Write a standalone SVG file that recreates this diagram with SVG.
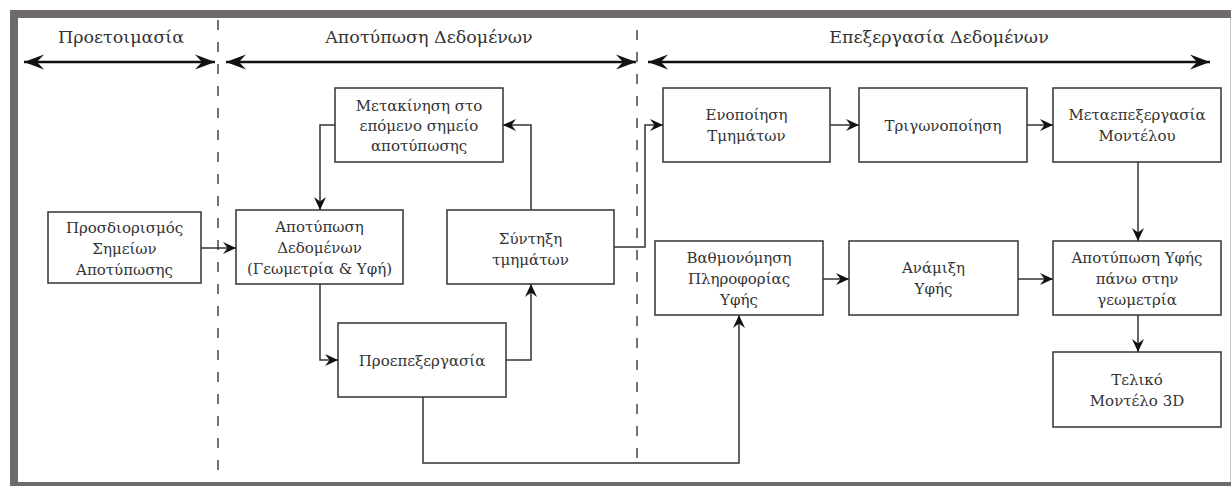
<svg xmlns="http://www.w3.org/2000/svg" width="1231" height="486" viewBox="0 0 1231 486">
<defs>
<marker id="ah" markerUnits="userSpaceOnUse" markerWidth="16" markerHeight="16" viewBox="-14 -8 16 16" refX="0" refY="0" orient="auto">
<path d="M0,0 L-13,-6 L-8.5,0 L-13,6 Z" fill="#111"/>
</marker>
<marker id="big" markerUnits="userSpaceOnUse" markerWidth="22" markerHeight="18" viewBox="-21 -9 22 18" refX="0" refY="0" orient="auto-start-reverse">
<path d="M0,0 L-20,-7.5 L-13,0 L-20,7.5 Z" fill="#111"/>
</marker>
</defs>
<style>
.box{fill:#fff;stroke:#333;stroke-width:1.5}
.t{font-family:"DejaVu Serif",serif;font-size:15px;fill:#333;text-anchor:middle}
.h{font-family:"DejaVu Serif",serif;font-size:17.5px;fill:#333;text-anchor:middle}
.c{fill:none;stroke:#333;stroke-width:1.5}
.ha{fill:none;stroke:#111;stroke-width:2.5}
.dash{fill:none;stroke:#444;stroke-width:1.5;stroke-dasharray:10 12}
</style>
<rect x="0" y="0" width="1231" height="486" fill="#fff"/>
<rect x="10" y="10" width="1221" height="476" fill="#6f6b6b"/>
<rect x="18" y="18" width="1212" height="464" fill="#fff"/>
<line x1="1230.5" y1="18" x2="1230.5" y2="482" stroke="#c8c8c8" stroke-width="1"/>

<g id="phases">
<line class="dash" x1="218" y1="20" x2="218" y2="470"/>
<line class="dash" x1="637" y1="30" x2="637" y2="470"/>
<text class="h" x="121" y="43">Προετοιμασία</text>
<text class="h" x="429" y="43">Αποτύπωση Δεδομένων</text>
<text class="h" x="939" y="43">Επεξεργασία Δεδομένων</text>
<line class="ha" x1="24" y1="62" x2="215" y2="62" marker-start="url(#big)" marker-end="url(#big)"/>
<line class="ha" x1="226" y1="62" x2="636" y2="62" marker-start="url(#big)" marker-end="url(#big)"/>
<line class="ha" x1="648" y1="62" x2="1210" y2="62" marker-start="url(#big)" marker-end="url(#big)"/>
</g>

<g id="connectors">
<path class="c" d="M201,248 H236" marker-end="url(#ah)"/>
<path class="c" d="M335,125 H320 V210" marker-end="url(#ah)"/>
<path class="c" d="M320,284 V360 H338" marker-end="url(#ah)"/>
<path class="c" d="M506,360 H531 V284" marker-end="url(#ah)"/>
<path class="c" d="M531,210 V125 H503" marker-end="url(#ah)"/>
<path class="c" d="M614,247 H645 V125 H663" marker-end="url(#ah)"/>
<path class="c" d="M423,397 V463 H739 V315" marker-end="url(#ah)"/>
<path class="c" d="M830,125 H859" marker-end="url(#ah)"/>
<path class="c" d="M1027,125 H1053" marker-end="url(#ah)"/>
<path class="c" d="M1138,162 V241" marker-end="url(#ah)"/>
<path class="c" d="M823,279 H849" marker-end="url(#ah)"/>
<path class="c" d="M1018,279 H1053" marker-end="url(#ah)"/>
<path class="c" d="M1138,315 V352" marker-end="url(#ah)"/>
</g>

<g id="n1"><rect class="box" x="48" y="212" width="153" height="71"/>
<text class="t" x="124.5" y="233">Προσδιορισμός</text><text class="t" x="124.5" y="254">Σημείων</text><text class="t" x="124.5" y="275">Αποτύπωσης</text></g>

<g id="n2"><rect class="box" x="236" y="210" width="167" height="74"/>
<text class="t" x="319.5" y="232">Αποτύπωση</text><text class="t" x="319.5" y="253">Δεδομένων</text><text class="t" x="319.5" y="274">(Γεωμετρία &amp; Υφή)</text></g>

<g id="n3"><rect class="box" x="335" y="88" width="168" height="74"/>
<text class="t" x="419" y="111">Μετακίνηση στο</text><text class="t" x="419" y="131">επόμενο σημείο</text><text class="t" x="419" y="151">αποτύπωσης</text></g>

<g id="n4"><rect class="box" x="447" y="210" width="167" height="74"/>
<text class="t" x="530.5" y="244">Σύντηξη</text><text class="t" x="530.5" y="265">τμημάτων</text></g>

<g id="n5"><rect class="box" x="338" y="323" width="168" height="74"/>
<text class="t" x="422" y="366">Προεπεξεργασία</text></g>

<g id="n6"><rect class="box" x="663" y="88" width="167" height="74"/>
<text class="t" x="746.5" y="120">Ενοποίηση</text><text class="t" x="746.5" y="141">Τμημάτων</text></g>

<g id="n7"><rect class="box" x="859" y="88" width="168" height="74"/>
<text class="t" x="943" y="131">Τριγωνοποίηση</text></g>

<g id="n8"><rect class="box" x="1053" y="88" width="168" height="74"/>
<text class="t" x="1137" y="120">Μεταεπεξεργασία</text><text class="t" x="1137" y="141">Μοντέλου</text></g>

<g id="n9"><rect class="box" x="655" y="241" width="168" height="74"/>
<text class="t" x="739" y="263">Βαθμονόμηση</text><text class="t" x="739" y="284">Πληροφορίας</text><text class="t" x="739" y="305">Υφής</text></g>

<g id="n10"><rect class="box" x="849" y="241" width="169" height="74"/>
<text class="t" x="933.5" y="273">Ανάμιξη</text><text class="t" x="933.5" y="294">Υφής</text></g>

<g id="n11"><rect class="box" x="1053" y="241" width="168" height="74"/>
<text class="t" x="1137" y="263">Αποτύπωση Υφής</text><text class="t" x="1137" y="284">πάνω στην</text><text class="t" x="1137" y="305">γεωμετρία</text></g>

<g id="n12"><rect class="box" x="1053" y="352" width="168" height="75"/>
<text class="t" x="1137" y="385">Τελικό</text><text class="t" x="1137" y="406">Μοντέλο 3D</text></g>
</svg>
